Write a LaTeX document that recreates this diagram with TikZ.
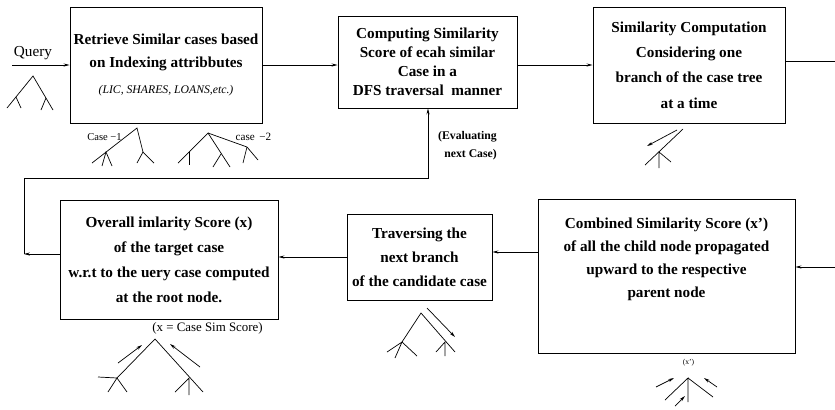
\documentclass[tikz,border=0pt]{standalone}
\usepackage{fontspec}
\setmainfont{Liberation Serif}
\usetikzlibrary{arrows.meta}
\newcommand{\drawtree}{\draw[line width=0.6pt]}
\newcommand{\drawflow}{\draw[line width=0.6pt,-{Stealth[length=5pt,width=2.6pt]}]}
\newcommand{\boxfont}[1]{\fontsize{13}{#1}\selectfont\bfseries}
\tikzset{
  stepbox/.style={draw, line width=0.8pt, align=center, inner sep=0pt},
  smalllabel/.style={inner sep=0pt, font=\fontsize{9.5}{11}\selectfont},
}

\begin{document}
\begin{tikzpicture}[x=0.03cm,y=-0.03cm]
\useasboundingbox (0,0) rectangle (835,409);
\node[stepbox, minimum width=5.76cm, minimum height=3.48cm, font=\boxfont{19.6pt}] (retrieve) at (166,65)
  {Retrieve Similar cases based\\on Indexing attribbutes\\[3pt]{\fontsize{10}{12}\selectfont\mdseries\itshape (LIC, SHARES, LOANS,etc.)}};
\node[stepbox, minimum width=5.37cm, minimum height=2.76cm, font=\boxfont{16.2pt}] (compute) at (427.5,62)
  {Computing Similarity\\Score of ecah similar\\Case in a\\DFS traversal\ \ manner};
\node[stepbox, minimum width=5.76cm, minimum height=3.48cm, font=\boxfont{21.6pt}] (branchsim) at (689,65)
  {Similarity Computation\\Considering one\\branch of the case tree\\at a time};
\node[stepbox, minimum width=6.54cm, minimum height=3.57cm, font=\boxfont{21.3pt}] (overall) at (169,259.5)
  {Overall imlarity Score (x)\\of the target case\\w.r.t to the uery case computed\\at the root node.};
\node[stepbox, minimum width=4.35cm, minimum height=2.58cm, font=\boxfont{20.5pt}] (traverse) at (419.5,257)
  {Traversing the\\next branch\\of the candidate case};
\node[stepbox, minimum width=7.71cm, minimum height=4.62cm] (combined) at (666.5,276) {};
\node[inner sep=0pt, align=center, font=\boxfont{19.6pt}] (combinedtext) at (666.5,259.5)
  {Combined Similarity Score (x')\\of all the child node propagated\\upward to the respective\\parent node};

\node[inner sep=0pt, font=\fontsize{13}{15}\selectfont] (query) at (33,53) {Query};
\node[smalllabel, font=\fontsize{9}{11}\selectfont] (case1) at (104.5,137) {Case −1};
\node[smalllabel] (case2) at (253.5,137) {case \,−2};
\node[inner sep=0pt, align=right, anchor=east, font=\fontsize{10}{15.4pt}\selectfont\bfseries] (evaluating) at (497,146) {(Evaluating\\next Case)};
\node[inner sep=0pt, font=\fontsize{11}{13}\selectfont] (simscore) at (207.5,328) {(x = Case Sim Score)};
\node[inner sep=0pt, font=\fontsize{6.5}{8}\selectfont] (xprime) at (688.5,363) {(x')};

\coordinate (querystart) at (12,65);
\coordinate (rightout) at (835,61);
\coordinate (rightin) at (835,267);
\coordinate (loopcorner) at (24,254);
\coordinate (looptop) at (24,178);
\drawflow (querystart) -- (querystart -| retrieve.west);
\drawflow (retrieve.east) -- (retrieve.east -| compute.west);
\drawflow (branchsim.west -| compute.east) -- (branchsim.west);
\drawtree (rightout -| branchsim.east) -- (rightout);
\drawflow (rightin) -- (rightin -| combined.east);
\drawflow (combined.west |- 0,252) -- (traverse.east |- 0,252);
\drawflow (traverse.west |- 0,257) -- (overall.east |- 0,257);
\drawflow (overall.west |- loopcorner) -- (loopcorner);
\drawflow (loopcorner) -- (looptop) -- (looptop -| 428,0) -- (compute.south -| 428,0);

\drawtree (7,108)--(33,76)--(53,110);
\drawtree (16,97)--(21,108);
\drawtree (46,98)--(41,110);

\drawtree (92,163)--(137,128)--(143,152);
\drawtree (102,166)--(106,152)--(112,166);
\drawtree (137,163)--(143,152)--(154,163);

\drawtree (178,163)--(208,133)--(230,167);
\drawtree (189,152)--(189,165);
\drawtree (221,154)--(213,167);
\drawtree (208,133)--(247,147)--(258,160);
\drawtree (247,147)--(243,163);

\drawtree (683,129)--(645,165);
\drawtree (659,168)--(659,152)--(671,162);
\drawflow (677,130) -- (647,146);

\drawtree (117,378)--(155,339)--(203,392);
\drawtree (98,377)--(117,378);
\drawtree (108,392)--(117,378)--(127,392);
\drawtree (189,395)--(189,378)--(175,392);
\drawflow (118,363) -- (142,345);
\drawflow (200,367) -- (170,344);

\drawtree (402,342)--(421,313)--(455,352);
\drawtree (387,352)--(402,342)--(395,358);
\drawtree (402,342)--(417,356);
\drawtree (445,356)--(445,342)--(436,352);
\drawflow (427,308) -- (455,337);

\drawtree (688,402)--(688,378)--(665,400);
\drawtree (688,378)--(713,397);
\drawflow (656,387) -- (674,378);
\drawflow (675,406) -- (685,396);
\drawflow (717,387) -- (704,378);
\end{tikzpicture}
\end{document}
